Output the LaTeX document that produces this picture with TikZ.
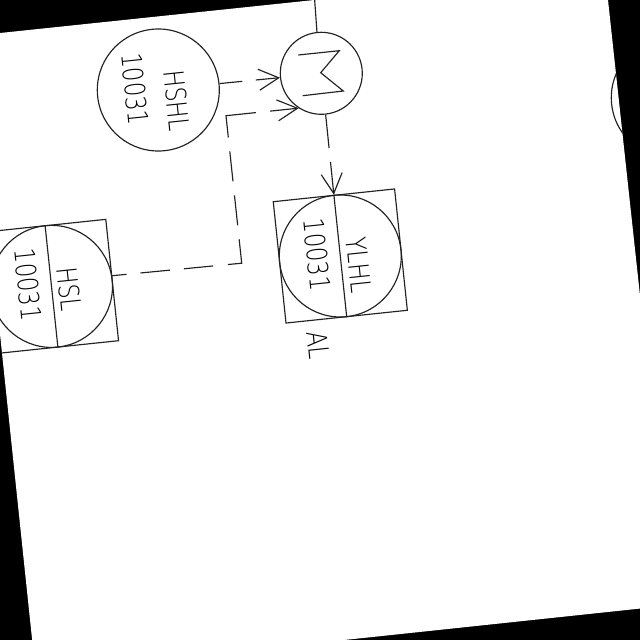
\documentclass[tikz,border=0pt]{standalone}
\usepackage{fontspec}
\usetikzlibrary{arrows.meta}
\newfontfamily\cadfont[FakeStretch=0.81]{DejaVu Sans ExtraLight}
\definecolor{inkline}{HTML}{222222}
\tikzset{
  ring/.style={draw=inkline,line width=1.15pt,circle,minimum size=122pt,inner sep=0pt,rotate=6},
  smallring/.style={ring,minimum size=82pt},
  framebox/.style={draw=inkline,line width=1.15pt,rectangle,minimum size=122pt,inner sep=0pt,rotate=6},
  tag/.style={inner sep=0pt,rotate=-84,text=black,font=\cadfont\fontsize{28}{28}\selectfont},
  wire/.style={draw=inkline,line width=1.15pt},
  flow/.style={wire,-{Straight Barb[length=20pt,width=21pt,line width=1.15pt]}},
}
\begin{document}
\begin{tikzpicture}[x=1pt,y=-1pt]
\useasboundingbox (0,0) rectangle (640,640);
\fill[black] (0,0) rectangle (640,640);
\clip (0,0) rectangle (640,640);
\fill[white] (-31.3,36.3) -- (604.7,-30.5) -- (673.5,605) -- (35.6,672.8) -- cycle;
\begin{scope}
\clip (-31.3,36.3) -- (604.7,-30.5) -- (673.5,605) -- (35.6,672.8) -- cycle;
% instruments
\node[ring] (hshl) at (158.3,90) {};
\node[smallring] (exch) at (321.3,73.3) {};
\node[framebox] (hslbox) at (51.5,286.4) {};
\node[ring] (hsl) at (51.5,286.4) {};
\node[framebox] (ylhlbox) at (340.3,256) {};
\node[ring] (ylhl) at (340.3,256) {};
\node[ring] (edge) at (672.3,97.7) {};
% dividers
\draw[wire] (hslbox.north) -- (hslbox.south);
\draw[wire] (ylhlbox.north) -- (ylhlbox.south);
% labels
\node[tag] (t1) at (176.7,101) {HSHL};
\node[tag] (t2) at (135,89.3) {10031};
\node[tag] (t3) at (69.3,289) {HSL};
\node[tag] (t4) at (28.3,284.7) {10031};
\node[tag] (t5) at (359,265) {YLHL};
\node[tag] (t6) at (317.3,254.7) {10031};
\node[tag] (t7) at (318,345) {AL};
% exchanger glyph
\coordinate (g1) at (298.3,55);
\coordinate (g2) at (339.3,50.7);
\coordinate (g3) at (320.7,72.7);
\coordinate (g4) at (343.3,91);
\coordinate (g5) at (302.7,95.7);
\draw[wire,line join=miter] (g1) -- (g2) -- (g3) -- (g4) -- (g5);
% connectors
\coordinate (topend) at (314.3,-5);
\draw[wire] (exch.north) -- (topend);
\draw[flow,dash pattern=on 23pt off 13.5pt] (hshl.east) -- (exch.west);
\draw[flow,dash pattern=on 33.5pt off 14pt] (exch.south) -- (ylhl.north);
\coordinate (bend1) at (241.7,263.2);
\coordinate (bend2) at (226,115.7);
\draw[flow,dash pattern=on 14.5pt off 14pt on 29.5pt off 14pt on 29.5pt off 14.7pt on 38pt off 14pt on 30.2pt off 14pt on 30.2pt off 14pt on 52pt off 14.2pt on 60pt] (hsl.4) -- (bend1) -- (bend2) -- (exch.231);
\end{scope}
\end{tikzpicture}
\end{document}
